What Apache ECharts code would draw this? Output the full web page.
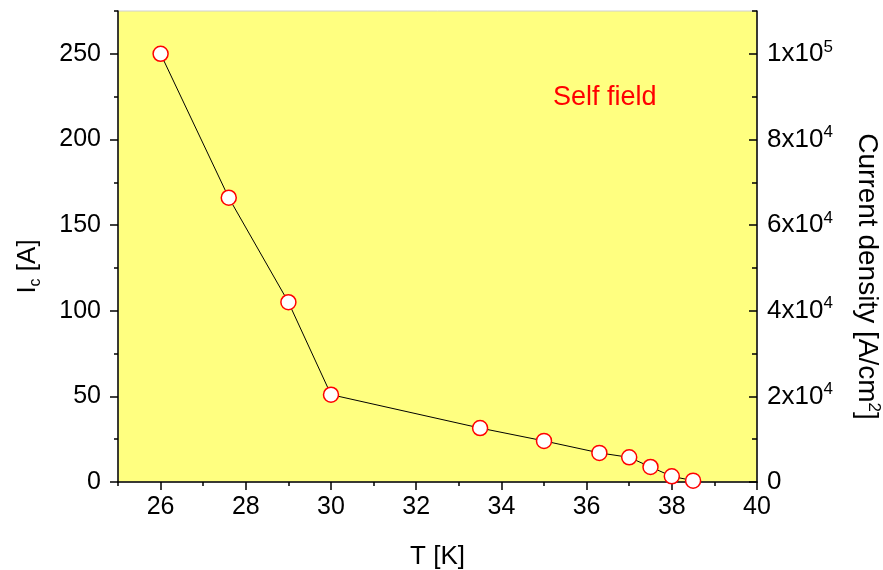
<!DOCTYPE html>
<html>
<head>
<meta charset="utf-8">
<script src="https://cdn.jsdelivr.net/npm/echarts@6/dist/echarts.min.js"></script>
<style>
  html, body { margin: 0; padding: 0; background: #fff; }
  #main { width: 883px; height: 570px; }
</style>
</head>
<body>
<div id="main"></div>
<script>
// data
var temps = [26, 27.6, 29, 30, 33.5, 35, 36.3, 37, 37.5, 38, 38.5]
var ic = [250, 166, 105, 51, 31.5, 24, 17, 14.4, 8.8, 3.3, 0.8]
var leftTicks = [0, 50, 100, 150, 200, 250]
var leftMinor = [25, 75, 125, 175, 225, 275]
var rightTicks = [0, 20000, 40000, 60000, 80000, 100000]
var rightMinor = [10000, 30000, 50000, 70000, 90000, 110000]
var xTicks = [26, 28, 30, 32, 34, 36, 38, 40]
var xMinor = [25, 27, 29, 31, 33, 35, 37, 39]

var FONT = 'Liberation Sans, Arial, sans-serif'
var main = document.getElementById('main')
var myChart = echarts.init(main, null, { renderer: 'canvas' })

function sciLabel (v) {
  if (v === 0) return '0'
  var e = Math.floor(Math.log10(v) + 1e-9)
  var m = Math.round(v / Math.pow(10, e))
  return m + 'x10{sup|' + e + '}'
}

var tickLine = { color: '#000', width: 1.5 }

myChart.setOption({
  animation: false,
  textStyle: { fontFamily: FONT },
  grid: {
    left: 118, right: 126, top: 11, bottom: 88,
    outerBoundsMode: 'none',
    show: true,
    backgroundColor: '#ffff80',
    borderColor: '#d0d0d0',
    borderWidth: 1
  },
  xAxis: [{
    type: 'value',
    min: 25, max: 40,
    name: 'T [K]',
    nameLocation: 'middle',
    nameGap: 62,
    nameTextStyle: { fontSize: 26, color: '#000', fontFamily: FONT },
    axisLine: { lineStyle: tickLine },
    axisTick: { length: 8, lineStyle: tickLine, customValues: xTicks },
    axisLabel: { fontSize: 25, color: '#000', margin: 13, fontFamily: FONT, customValues: xTicks },
    splitLine: { show: false }
  }, {
    // minor ticks on the T axis
    type: 'value',
    min: 25, max: 40,
    position: 'bottom',
    axisLine: { show: false },
    axisTick: { length: 4, lineStyle: tickLine, customValues: xMinor },
    axisLabel: { show: false },
    splitLine: { show: false }
  }],
  yAxis: [{
    type: 'value',
    min: 0, max: 275,
    position: 'left',
    name: 'I{sub|c} [A]',
    nameLocation: 'middle',
    nameRotate: 90,
    nameGap: 74,
    nameTextStyle: {
      fontSize: 26, color: '#000', fontFamily: FONT,
      padding: [0, 40, 0, 0],
      rich: { sub: { fontSize: 16, verticalAlign: 'bottom', padding: [16, 0, 0, 0] } }
    },
    axisLine: { show: true, lineStyle: tickLine },
    axisTick: { length: 8, lineStyle: tickLine, customValues: leftTicks },
    axisLabel: { fontSize: 25, color: '#000', margin: 17, fontFamily: FONT, customValues: leftTicks },
    splitLine: { show: false }
  }, {
    type: 'value',
    min: 0, max: 110000,
    position: 'right',
    name: 'Current density [A/cm{sup|2}]',
    nameLocation: 'middle',
    nameRotate: -90,
    nameGap: 94,
    nameTextStyle: {
      fontSize: 28, color: '#000', fontFamily: FONT,
      padding: [0, 0, 0, 60],
      rich: { sup: { fontSize: 17, verticalAlign: 'top', padding: [0, 0, 14, 0] } }
    },
    axisLine: { show: true, lineStyle: tickLine },
    axisTick: { inside: true, length: 8, lineStyle: tickLine, customValues: rightTicks },
    axisLabel: {
      fontSize: 26, color: '#000', margin: 10, fontFamily: FONT,
      customValues: rightTicks,
      formatter: sciLabel,
      rich: { sup: { fontSize: 17, verticalAlign: 'top', padding: [0, 0, 14, 0] } }
    },
    splitLine: { show: false }
  }, {
    // minor ticks, left
    type: 'value',
    min: 0, max: 275,
    position: 'left',
    axisLine: { show: false },
    axisTick: { length: 4, lineStyle: tickLine, customValues: leftMinor },
    axisLabel: { show: false },
    splitLine: { show: false }
  }, {
    // minor ticks, right
    type: 'value',
    min: 0, max: 110000,
    position: 'right',
    axisLine: { show: false },
    axisTick: { inside: true, length: 5, lineStyle: tickLine, customValues: rightMinor },
    axisLabel: { show: false },
    splitLine: { show: false }
  }],
  series: [{
    type: 'line',
    data: temps.map(function (t, i) { return [t, ic[i]] }),
    xAxisIndex: 0,
    yAxisIndex: 0,
    symbol: 'circle',
    symbolSize: 15,
    lineStyle: { color: '#000', width: 1 },
    itemStyle: { color: '#fff', borderColor: '#ff0000', borderWidth: 1.5 },
    z: 3
  }],
  graphic: [{
    type: 'text',
    left: 553,
    top: 84,
    style: { text: 'Self field', fill: '#ff0000', font: '27px ' + FONT }
  }]
})
</script>
</body>
</html>
